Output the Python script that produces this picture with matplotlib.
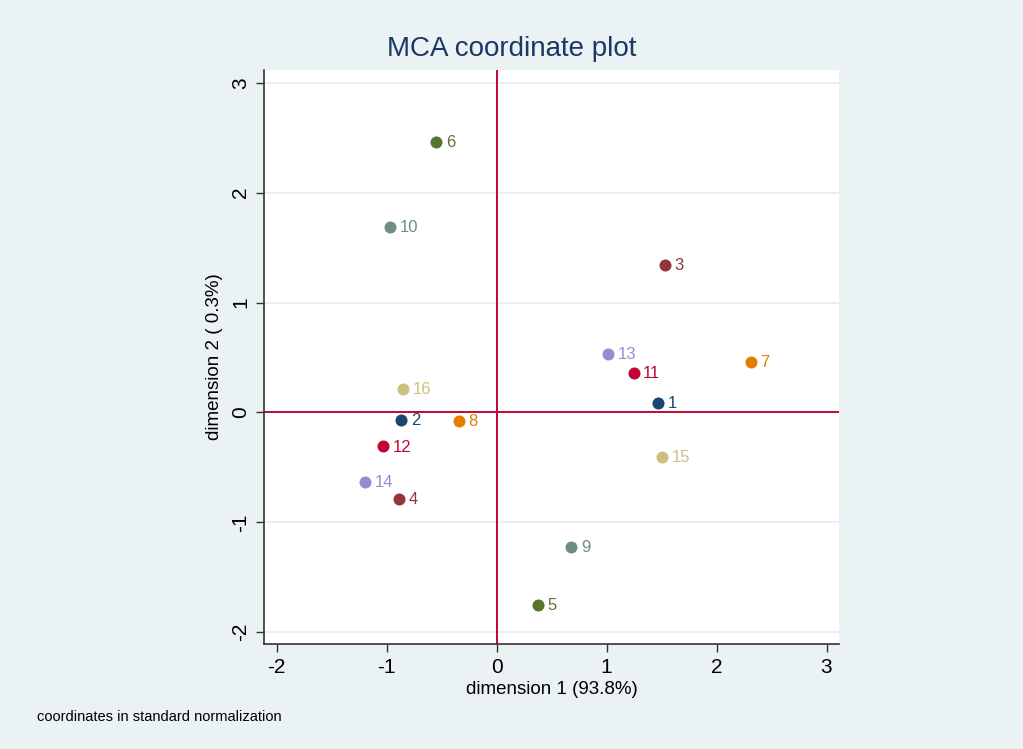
import matplotlib
matplotlib.use('Agg')
import matplotlib.pyplot as plt

plt.rcParams['font.family'] = ['Liberation Sans', 'DejaVu Sans']
plt.rcParams['axes.unicode_minus'] = False

# MCA category coordinates (dimension 1, dimension 2)
labels = ['1', '2', '3', '4', '5', '6', '7', '8',
          '9', '10', '11', '12', '13', '14', '15', '16']
dim1 = [1.465, -0.867, 1.53, -0.884, 0.377, -0.547, 2.31, -0.346,
        0.678, -0.967, 1.245, -1.03, 1.017, -1.194, 1.50, -0.848]
dim2 = [0.088, -0.068, 1.345, -0.79, -1.755, 2.46, 0.46, -0.077,
        -1.226, 1.69, 0.36, -0.31, 0.53, -0.633, -0.405, 0.215]
xticks = [-2, -1, 0, 1, 2, 3]
yticks = [-2, -1, 0, 1, 2, 3]

# stata s2color palette, one colour per pair of categories
palette = ['#1a476f', '#90353b', '#55752f', '#e37e00',
           '#6e8e84', '#c10534', '#938dd2', '#cac27e']
colors = [palette[i // 2] for i in range(len(labels))]

bg = '#eaf2f3'
fig = plt.figure(figsize=(10.23, 7.49), dpi=100, facecolor=bg)
ax = fig.add_axes([0.258, 0.140, 0.562, 0.7665])
ax.set_facecolor('white')

ax.axhline(0, color='#c10534', lw=1.4, zorder=1)
ax.axvline(0, color='#c10534', lw=1.4, zorder=1)

for x, y, lab, c in zip(dim1, dim2, labels, colors):
    ax.scatter(x, y, s=75, color=c, zorder=3, linewidths=0)
    ax.annotate(lab, (x, y), xytext=(7, -0.5), textcoords='offset points',
                va='center', ha='left', fontsize=12, color=c, zorder=3)

ax.set_xlim(-2.115, 3.112)
ax.set_ylim(-2.109, 3.116)
ax.set_xticks(xticks)
ax.set_yticks(yticks)
ax.yaxis.grid(True, color='#e9f0f2', lw=1.5, zorder=0)
ax.set_axisbelow(True)

for s in ['top', 'right']:
    ax.spines[s].set_visible(False)
for s in ['left', 'bottom']:
    ax.spines[s].set_color('#333333')
    ax.spines[s].set_linewidth(1.2)

ax.tick_params(axis='both', direction='out', length=6, width=1, color='#333333',
               labelsize=15, pad=4)
plt.setp(ax.get_yticklabels(), rotation=90, va='center')

ax.set_xlabel('dimension 1 (93.8%)', fontsize=13.5, labelpad=3)
ax.set_ylabel('dimension 2 ( 0.3%)', fontsize=13.5, labelpad=6)
fig.text(0.5, 0.935, 'MCA coordinate plot', ha='center', va='center',
         fontsize=20, color='#1e3764')
fig.text(0.036, 0.043, 'coordinates in standard normalization',
         ha='left', va='center', fontsize=10.5)

fig.savefig('out.png', dpi=100, facecolor=bg)
